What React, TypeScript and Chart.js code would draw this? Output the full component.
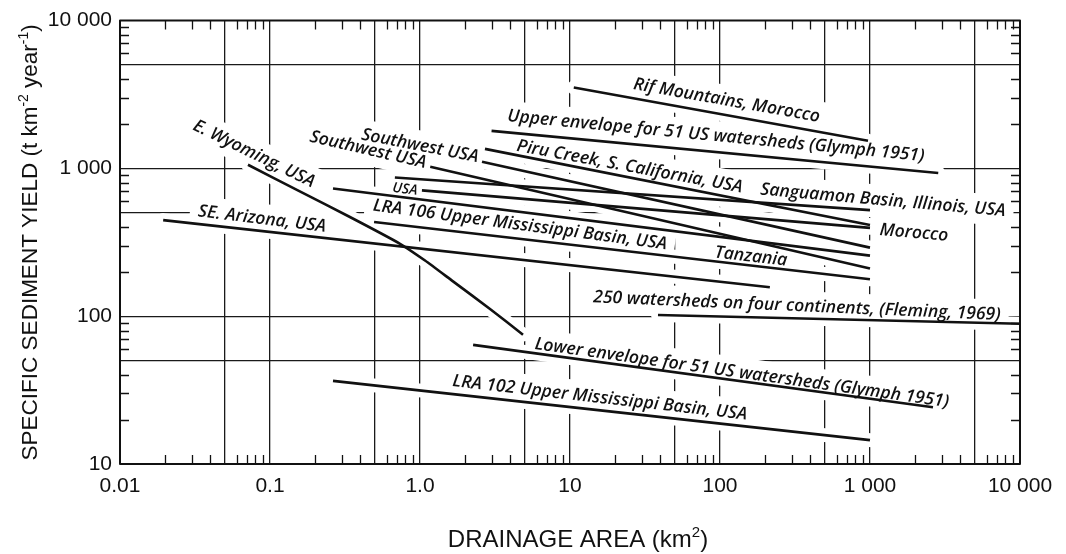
import React, { useEffect, useRef } from "react";
import { Chart, registerables } from "chart.js";

Chart.register(...registerables);

// ---------- axis ranges and tick labels ----------
const X_MIN = 0.01;
const X_MAX = 10000;
const Y_MIN = 10;
const Y_MAX = 10000;
const xTickValues = [0.01, 0.1, 1, 10, 100, 1000, 10000];
const xTickLabels = ["0.01", "0.1", "1.0", "10", "100", "1 000", "10 000"];
const yTickValues = [10, 100, 1000, 10000];
const yTickLabels = ["10", "100", "1 000", "10 000"];

// ---------- series (drainage area km², specific yield t km-2 yr-1) ----------
const rifX = [10.6, 970];
const rifY = [3530, 1540];
const upperEnvelopeX = [3.0, 2850];
const upperEnvelopeY = [1795, 930];
const piruX = [2.71, 1000];
const piruY = [1355, 414];
const southwestAX = [2.59, 1000];
const southwestAY = [1109, 291];
const southwestBX = [1.17, 1000];
const southwestBY = [1026, 210];
const sanguamonX = [0.68, 1000];
const sanguamonY = [867, 522];
const usaX = [1.03, 1000];
const usaY = [710, 396];
const tanzaniaX = [0.263, 1000];
const tanzaniaY = [731, 257];
const lra106X = [0.494, 1000];
const lra106Y = [434, 178];
const arizonaX = [0.0194, 215];
const arizonaY = [447, 157];
const wyomingX = [0.0713, 0.158, 0.341, 0.736, 1.08, 1.66, 2.93, 4.86];
const wyomingY = [1059, 699, 469, 309, 238, 172, 112, 75];
const flemingX = [38.6, 10000];
const flemingY = [102, 89];
const lowerEnvelopeX = [2.26, 2630];
const lowerEnvelopeY = [64, 24.2];
const lra102X = [0.263, 1000];
const lra102Y = [36.5, 14.5];

// ---------- in-plot labels (annotation placement) ----------
const annotations = [
  { text: "Rif Mountains, Morocco", x: 111, y: 2877, angle: 10, size: 17.5 },
  { text: "Upper envelope for 51 US watersheds (Glymph 1951)", x: 94, y: 1653, angle: 5.5, size: 17.5 },
  { text: "Piru Creek, S. California, USA", x: 25, y: 1026, angle: 10.5, size: 17.5 },
  { text: "Southwest USA", x: 1.0, y: 1419, angle: 11, size: 17.5 },
  { text: "Southwest USA", x: 0.45, y: 1333, angle: 13, size: 17.5 },
  { text: "USA", x: 0.794, y: 721, angle: 7, size: 14 },
  { text: "LRA 106 Upper Mississippi Basin, USA", x: 4.64, y: 414, angle: 7.5, size: 17.5 },
  { text: "Tanzania", x: 161, y: 253, angle: 6.5, size: 17.5 },
  { text: "Sanguamon Basin, Illinois, USA", x: 1220, y: 608, angle: 5, size: 17.5 },
  { text: "Morocco", x: 1965, y: 366, angle: 5, size: 17.5 },
  { text: "E. Wyoming, USA", x: 0.0782, y: 1254, angle: 26, size: 17.5 },
  { text: "SE. Arizona, USA", x: 0.0885, y: 454, angle: 7, size: 17.5 },
  { text: "250 watersheds on four continents, (Fleming, 1969)", x: 326, y: 117, angle: 2.5, size: 17.5 },
  { text: "Lower envelope for 51 US watersheds (Glymph 1951)", x: 140, y: 41.2, angle: 8, size: 17.5 },
  { text: "LRA 102 Upper Mississippi Basin, USA", x: 15.8, y: 28, angle: 6.5, size: 17.5 },
];

const LABEL_FONT = "'Open Sans', 'DejaVu Sans', sans-serif";
const AXIS_FONT = "'Liberation Sans', Arial, Helvetica, sans-serif";
const INK = "#111";

function logTicks(min: number, max: number) {
  const out: number[] = [];
  for (let k = Math.round(Math.log10(min)); k < Math.round(Math.log10(max)); k++) {
    for (let m = 1; m <= 9; m++) out.push(Number((m * Math.pow(10, k)).toPrecision(6)));
  }
  out.push(max);
  return out;
}
function mantissa(v: number) {
  return Math.round(v / Math.pow(10, Math.floor(Math.log10(v) + 1e-9)));
}
function sameVal(a: number, b: number) {
  return Math.abs(Math.log10(a) - Math.log10(b)) < 1e-6;
}
function isGrid(v: number, min: number, max: number) {
  if (v == null || sameVal(v, min) || sameVal(v, max)) return false;
  const m = mantissa(v);
  return m === 1 || m === 5;
}

function pts(xs: number[], ys: number[]) {
  return xs.map((x, i) => ({ x, y: ys[i] }));
}

function drawRich(ctx: CanvasRenderingContext2D, parts: { t: string; sup?: boolean }[], size: number) {
  const base = `${size}px ${AXIS_FONT}`;
  const sup = `${Math.round(size * 0.62)}px ${AXIS_FONT}`;
  let total = 0;
  const widths = parts.map((p) => {
    ctx.font = p.sup ? sup : base;
    const w = ctx.measureText(p.t).width;
    total += w;
    return w;
  });
  let x = -total / 2;
  parts.forEach((p, i) => {
    ctx.font = p.sup ? sup : base;
    ctx.fillText(p.t, x, p.sup ? -size * 0.42 : 0);
    x += widths[i];
  });
}

const decorPlugin = {
  id: "decor",
  beforeDatasetsDraw(chart: any) {
    const { ctx, chartArea: a, scales } = chart;
    const xs = scales.x;
    const ys = scales.y;
    ctx.save();
    // white gaps in the grid around curves
    ctx.strokeStyle = "#fff";
    ctx.lineWidth = 14;
    ctx.lineCap = "round";
    ctx.lineJoin = "round";
    chart.data.datasets.forEach((_: any, i: number) => {
      const meta = chart.getDatasetMeta(i);
      ctx.beginPath();
      meta.data.forEach((p: any, j: number) => (j ? ctx.lineTo(p.x, p.y) : ctx.moveTo(p.x, p.y)));
      ctx.stroke();
    });
    // white gaps around labels
    ctx.fillStyle = "#fff";
    annotations.forEach((an) => {
      ctx.font = `italic 600 ${an.size}px ${LABEL_FONT}`;
      const w = ctx.measureText(an.text).width;
      const px = xs.getPixelForValue(an.x);
      const py = ys.getPixelForValue(an.y);
      ctx.save();
      ctx.translate(px, py);
      ctx.rotate((an.angle * Math.PI) / 180);
      ctx.fillRect(-w / 2 - 8, -an.size * 0.7 - 3, w + 16, an.size * 1.4 + 6);
      ctx.restore();
    });
    // frame
    ctx.strokeStyle = INK;
    ctx.lineWidth = 2;
    ctx.lineCap = "butt";
    ctx.strokeRect(a.left, a.top, a.right - a.left, a.bottom - a.top);
    // inward minor ticks
    ctx.lineWidth = 1.3;
    const tl = 9;
    ctx.beginPath();
    logTicks(X_MIN, X_MAX).forEach((v) => {
      const m = mantissa(v);
      if (m === 1 || m === 5) return;
      const px = Math.round(xs.getPixelForValue(v)) + 0.5;
      ctx.moveTo(px, a.bottom);
      ctx.lineTo(px, a.bottom - tl);
      ctx.moveTo(px, a.top);
      ctx.lineTo(px, a.top + tl);
    });
    logTicks(Y_MIN, Y_MAX).forEach((v) => {
      const m = mantissa(v);
      if (m === 1 || m === 5) return;
      const py = Math.round(ys.getPixelForValue(v)) + 0.5;
      ctx.moveTo(a.left, py);
      ctx.lineTo(a.left + tl, py);
      ctx.moveTo(a.right, py);
      ctx.lineTo(a.right - tl, py);
    });
    ctx.stroke();
    ctx.restore();
  },
  afterDatasetsDraw(chart: any) {
    const { ctx, scales } = chart;
    ctx.save();
    ctx.fillStyle = INK;
    ctx.textAlign = "center";
    ctx.textBaseline = "middle";
    annotations.forEach((an) => {
      ctx.font = `italic 600 ${an.size}px ${LABEL_FONT}`;
      const px = scales.x.getPixelForValue(an.x);
      const py = scales.y.getPixelForValue(an.y);
      ctx.save();
      ctx.translate(px, py);
      ctx.rotate((an.angle * Math.PI) / 180);
      ctx.fillText(an.text, 0, 0);
      ctx.restore();
    });
    ctx.restore();
  },
  afterDraw(chart: any) {
    const { ctx, chartArea: a } = chart;
    ctx.save();
    ctx.fillStyle = INK;
    ctx.textBaseline = "alphabetic";
    ctx.textAlign = "left";
    // y title
    ctx.save();
    ctx.translate(37, (a.top + a.bottom) / 2);
    ctx.rotate(-Math.PI / 2);
    drawRich(
      ctx,
      [
        { t: "SPECIFIC SEDIMENT YIELD (t km" },
        { t: "-2", sup: true },
        { t: " year" },
        { t: "-1", sup: true },
        { t: ")" },
      ],
      22.5
    );
    ctx.restore();
    // x title
    ctx.save();
    ctx.translate(578, 547);
    drawRich(ctx, [{ t: "DRAINAGE AREA (km" }, { t: "2", sup: true }, { t: ")" }], 24);
    ctx.restore();
    ctx.restore();
  },
};

const lineStyle = {
  borderColor: INK,
  borderWidth: 2.6,
  pointRadius: 0,
  fill: false,
  tension: 0,
};

export default function App() {
  const ref = useRef<HTMLCanvasElement | null>(null);
  useEffect(() => {
    if (!ref.current) return;
    const series = [
      pts(rifX, rifY),
      pts(upperEnvelopeX, upperEnvelopeY),
      pts(piruX, piruY),
      pts(southwestAX, southwestAY),
      pts(southwestBX, southwestBY),
      pts(sanguamonX, sanguamonY),
      pts(usaX, usaY),
      pts(tanzaniaX, tanzaniaY),
      pts(lra106X, lra106Y),
      pts(arizonaX, arizonaY),
      pts(flemingX, flemingY),
      pts(lowerEnvelopeX, lowerEnvelopeY),
      pts(lra102X, lra102Y),
    ];
    const datasets: any[] = series.map((d) => ({ ...lineStyle, data: d }));
    datasets.push({ ...lineStyle, data: pts(wyomingX, wyomingY), tension: 0.2 });

    const chart = new Chart(ref.current, {
      type: "line",
      data: { datasets },
      options: {
        animation: false,
        responsive: true,
        maintainAspectRatio: false,
        layout: { padding: { top: 15, right: 46, left: 0, bottom: 0 } },
        plugins: { legend: { display: false }, tooltip: { enabled: false } },
        scales: {
          x: {
            type: "logarithmic",
            min: X_MIN,
            max: X_MAX,
            afterBuildTicks: (s: any) => {
              s.ticks = logTicks(X_MIN, X_MAX).map((v) => ({ value: v }));
            },
            afterFit: (s: any) => {
              s.height = 90;
            },
            border: { display: false },
            grid: {
              drawTicks: false,
              lineWidth: 1.3,
              color: (c: any) => (isGrid(c.tick && c.tick.value, X_MIN, X_MAX) ? "#1a1a1a" : "rgba(0,0,0,0)"),
            },
            ticks: {
              autoSkip: false,
              maxRotation: 0,
              padding: 10,
              color: INK,
              font: { family: AXIS_FONT, size: 21 },
              callback: (v: any) => {
                const i = xTickValues.findIndex((t) => sameVal(t, Number(v)));
                return i >= 0 ? xTickLabels[i] : "";
              },
            },
          },
          y: {
            type: "logarithmic",
            min: Y_MIN,
            max: Y_MAX,
            afterBuildTicks: (s: any) => {
              s.ticks = logTicks(Y_MIN, Y_MAX).map((v) => ({ value: v }));
            },
            afterFit: (s: any) => {
              s.width = 120;
            },
            border: { display: false },
            grid: {
              drawTicks: false,
              lineWidth: 1.3,
              color: (c: any) => (isGrid(c.tick && c.tick.value, Y_MIN, Y_MAX) ? "#1a1a1a" : "rgba(0,0,0,0)"),
            },
            ticks: {
              autoSkip: false,
              padding: 8,
              color: INK,
              font: { family: AXIS_FONT, size: 21 },
              callback: (v: any) => {
                const i = yTickValues.findIndex((t) => sameVal(t, Number(v)));
                return i >= 0 ? yTickLabels[i] : "";
              },
            },
          },
        },
      },
      plugins: [decorPlugin],
    } as any);
    return () => chart.destroy();
  }, []);

  return (
    <div style={{ position: "fixed", left: 0, top: 0, width: 1066, height: 554, background: "#fff" }}>
      <canvas ref={ref} />
    </div>
  );
}
